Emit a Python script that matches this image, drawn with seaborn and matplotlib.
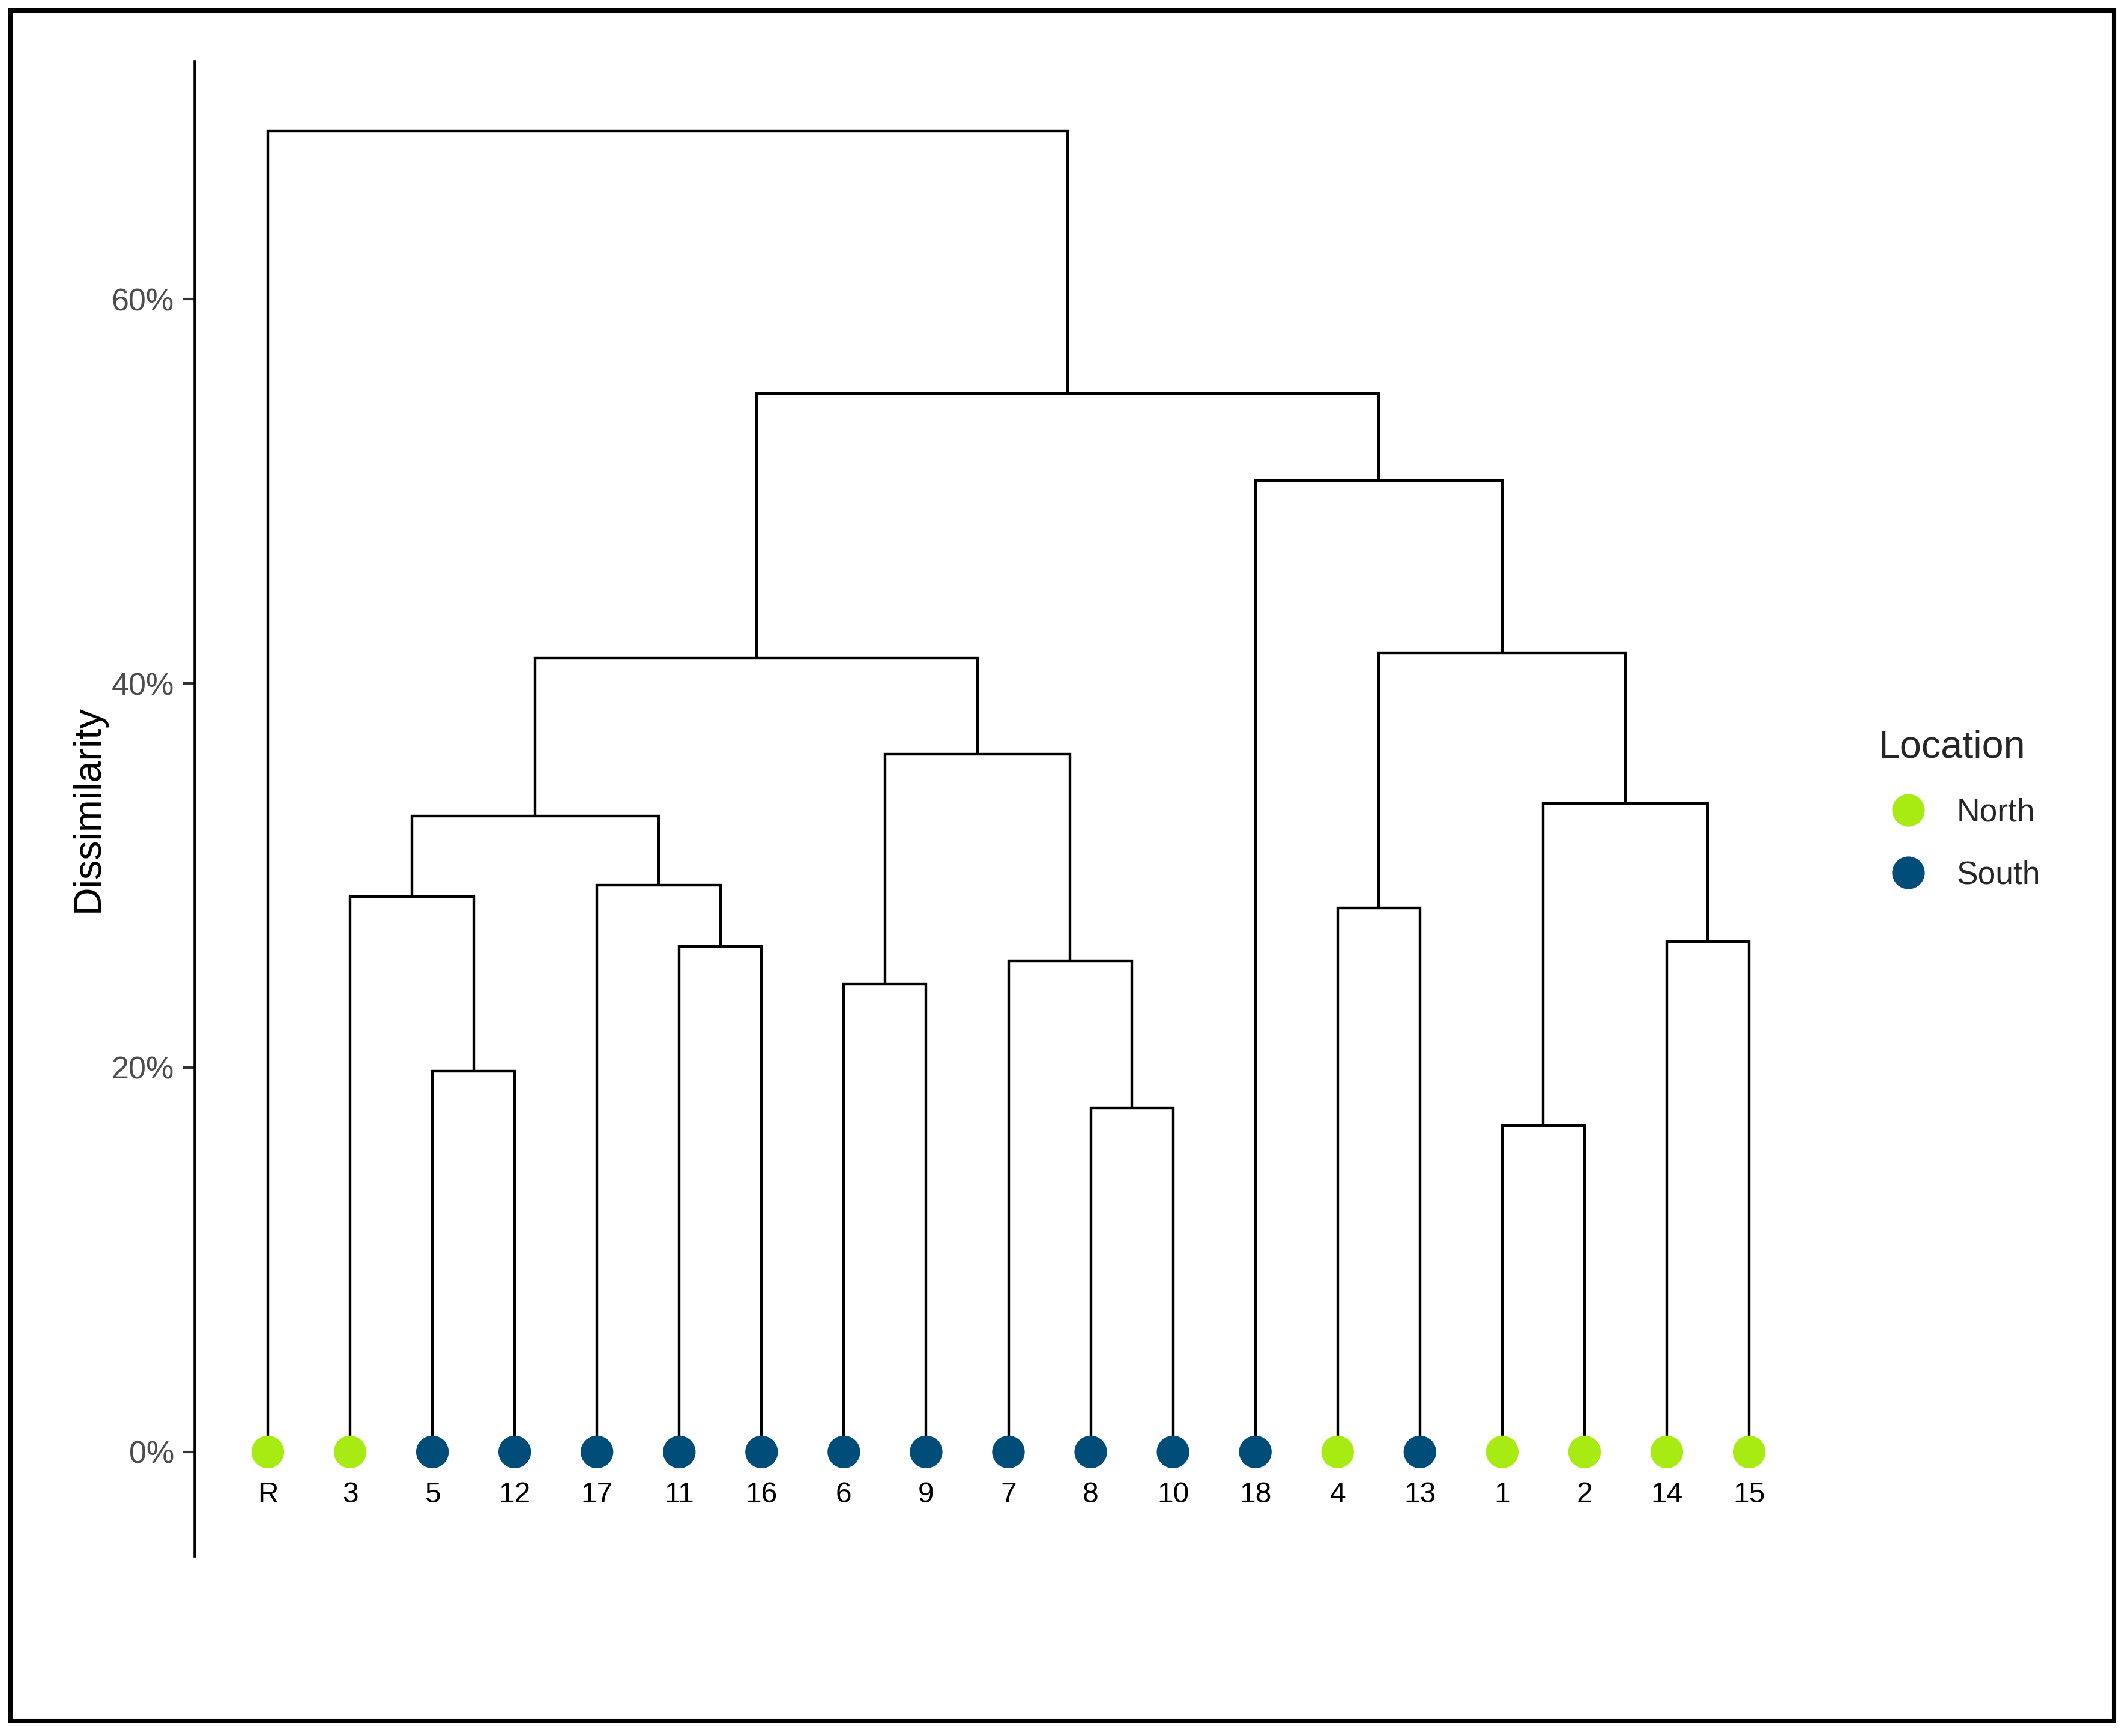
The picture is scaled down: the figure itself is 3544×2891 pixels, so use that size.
import numpy as np
import pandas as pd
import matplotlib
matplotlib.use("Agg")
import matplotlib.pyplot as plt
import seaborn as sns
from matplotlib.ticker import PercentFormatter
from matplotlib.patches import Rectangle

# ---------------- data ----------------
leaf_labels = ["R", "3", "5", "12", "17", "11", "16", "6", "9", "7", "8", "10",
               "18", "4", "13", "1", "2", "14", "15"]
leaf_location = ["North", "North", "South", "South", "South", "South", "South",
                 "South", "South", "South", "South", "South", "South", "North",
                 "South", "North", "North", "North", "North"]

# merges: (left child, right child, height) ; children are leaf labels or "m<i>"
merge_left = ["5", "3", "11", "17", "m1", "6", "8", "7", "m5", "m4",
              "4", "1", "14", "m11", "m10", "18", "m9", "R"]
merge_right = ["12", "m0", "16", "m2", "m3", "9", "10", "m6", "m7", "m8",
               "13", "2", "15", "m12", "m13", "m14", "m15", "m16"]
merge_height = [0.198, 0.289, 0.263, 0.295, 0.331, 0.2435, 0.179, 0.2555, 0.363, 0.413,
                0.283, 0.170, 0.2655, 0.3375, 0.416, 0.5055, 0.551, 0.6875]

location_order = ["North", "South"]
palette = {"North": "#A8EB12", "South": "#004D7A"}
y_ticks = [0.0, 0.2, 0.4, 0.6]

# ---------------- setup ----------------
sns.set_theme(style="white")
plt.rcParams["font.family"] = ["Liberation Sans", "DejaVu Sans"]

W, H = 3544, 2891
dpi = 300
fig = plt.figure(figsize=(W / dpi, H / dpi), dpi=dpi)
ax_left, ax_right = 324 / W, 3035 / W
ax_top, ax_bottom = 1 - 102 / H, 1 - 2591 / H
ax = fig.add_axes([ax_left, ax_bottom, ax_right - ax_left, ax_top - ax_bottom])

# node positions
pos = {lab: (float(i), 0.0) for i, lab in enumerate(leaf_labels)}
lw = 1.05
for i, (l, r, h) in enumerate(zip(merge_left, merge_right, merge_height)):
    xl, hl = pos[l]
    xr, hr = pos[r]
    ax.plot([xl, xl, xr, xr], [hl, h, h, hr], color="black", lw=lw,
            solid_joinstyle="miter", solid_capstyle="butt", zorder=1)
    pos[f"m{i}"] = ((xl + xr) / 2.0, h)

# leaves
df = pd.DataFrame({"x": np.arange(len(leaf_labels)), "y": 0.0,
                   "label": leaf_labels, "Location": leaf_location})
sns.scatterplot(data=df, x="x", y="y", hue="Location", hue_order=location_order,
                palette=palette, s=170, linewidth=0, ax=ax, zorder=3)

for xi, lab in zip(df["x"], df["label"]):
    ax.annotate(lab, (xi, 0), xytext=(0, -17.2), textcoords="offset points",
                ha="center", va="center", fontsize=11.5, color="black")

# axes styling
ax.set_xlim(-0.89, 18.89)
ax.set_ylim(-0.0541, 0.7238)
ax.set_yticks(y_ticks)
ax.yaxis.set_major_formatter(PercentFormatter(1.0, decimals=0))
ax.tick_params(axis="y", length=4.8, width=1.0, color="#333333", labelsize=12.5,
               labelcolor="#4D4D4D", pad=3.4, left=True)
ax.set_xticks([])
ax.set_xlabel("")
for side in ["top", "right", "bottom"]:
    ax.spines[side].set_visible(False)
ax.spines["left"].set_color("black")
ax.spines["left"].set_linewidth(1.1)
ax.set_ylabel("Dissimilarity", fontsize=15.5, color="black")
ax.yaxis.set_label_coords(-0.0542, 0.5)
ax.grid(False)

# legend
sns.move_legend(ax, loc="upper left", bbox_to_anchor=(3129 / W, 1 - 1215 / H),
                bbox_transform=fig.transFigure, frameon=False, title="Location",
                fontsize=12.8, title_fontsize=15.5, alignment="left",
                borderpad=0, handlelength=1.85, handletextpad=0.58,
                labelspacing=1.01, borderaxespad=0)
leg = ax.get_legend()
for h in leg.legend_handles:
    h.set_markersize(13.0)
    h.set_markeredgewidth(0)

# outer frame
fig.patches.append(Rectangle((16.5 / W, 26 / H), (3520 - 16.5) / W, (2874.5 - 26) / H,
                             transform=fig.transFigure, fill=False,
                             edgecolor="black", linewidth=1.7))

fig.savefig("out.png", dpi=dpi)
